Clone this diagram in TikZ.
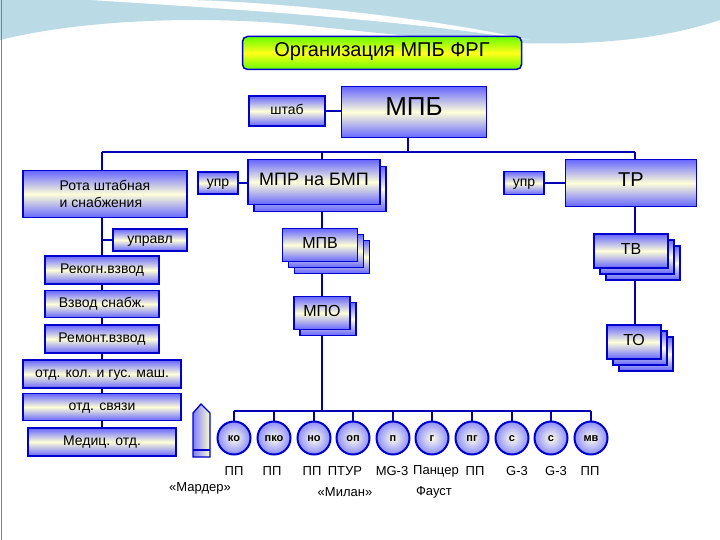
\documentclass[tikz,border=0pt]{standalone}
\usepackage{fontspec}
\setmainfont{Liberation Sans}
\begin{document}
\begin{tikzpicture}[x=1pt,y=-1pt,
 bx/.style={draw=blue!80!black,line width=1.4pt,top color=blue!60,bottom color=blue!60,middle color=yellow!15,inner sep=0pt,font=\fontsize{14}{15}\selectfont},
 tc/.style={text height=0.72em,text depth=0pt},
 ln/.style={draw=blue!70!black,line width=1.5pt},
 cr/.style={circle,draw=blue!80!black,line width=2pt,inner color=yellow!10,outer color=blue!45,minimum size=33pt,inner sep=0pt,text height=0.72em,text depth=0pt,font=\bfseries\fontsize{11}{12}\selectfont},
 lb/.style={font=\fontsize{13}{14}\selectfont,inner sep=0pt}]
\useasboundingbox (0,0) rectangle (720,540);
\fill[white] (0,0) rectangle (720,540);
\fill[cyan!35!teal!30] (0,0) -- (720,0) -- (720,20) .. controls (600,60) and (450,40) .. (300,25) .. controls (200,15) and (80,20) .. (0,40) -- cycle;
\fill[white] (90,0) .. controls (250,10) and (400,20) .. (530,40) .. controls (420,15) and (250,0) .. (180,0) -- cycle;
\draw[gray,line width=1pt] (1,0) -- (1,540);
% title
\node[tc,draw=blue!80!black,line width=1.5pt,rounded corners=5pt,top color=green!60!yellow,bottom color=green!60!yellow,middle color=yellow!90,minimum width=279pt,minimum height=33pt,font=\fontsize{20}{21}\selectfont] (title) at (382,53) {Организация МПБ ФРГ};
% connectors first
\coordinate (bl) at (102,152); \coordinate (br) at (635,152);
\draw[ln] (bl) -- (br);
\draw[ln] (408,112) -- (408,152);
\draw[ln] (287,111) -- (342,111);
\draw[ln] (102,152) -- (102,455);
\draw[ln] (102,240) -- (113,240);
\draw[ln] (322,152) -- (322,411);
\draw[ln] (238,183) -- (248,183);
\draw[ln] (635,152) -- (635,342);
\draw[ln] (544,183) -- (566,183);
\draw[ln] (234,411) -- (591,411);
\foreach \x in {234,274,314,353,393,432,472,512,551,591} \draw[ln] (\x,411) -- (\x,425);
% stacked backs
\foreach \d in {12,6} {
 \node[bx,minimum width=75pt,minimum height=33pt] at (320+\d,245+\d) {};
 \node[bx,minimum width=74pt,minimum height=34pt] at (631+\d,251+\d) {};
 \node[bx,minimum width=54pt,minimum height=34pt] at (634+\d,342+\d) {};}
\node[bx,minimum width=132pt,minimum height=45pt] at (320,189) {};
\node[bx,minimum width=56pt,minimum height=33pt] at (328,319) {};
% main boxes
\node[bx,tc,minimum width=145pt,minimum height=51pt,font=\fontsize{26}{28}\selectfont] (mpb) at (414,112) {МПБ};
\node[bx,tc,minimum width=76pt,minimum height=30pt] (shtab) at (287,111) {штаб};
\node[bx,minimum width=164pt,minimum height=47pt,align=left,font=\fontsize{14}{17}\selectfont] (rota) at (105,194) {Рота штабная\\и снабжения};
\node[bx,tc,minimum width=40pt,minimum height=22pt] (upr1) at (218,183) {упр};
\node[bx,tc,minimum width=132pt,minimum height=45pt,font=\fontsize{18}{20}\selectfont] (mpr) at (314,182) {МПР на БМП};
\node[bx,tc,minimum width=74pt,minimum height=22pt] (uprl) at (150,240) {управл};
\node[bx,tc,minimum width=75pt,minimum height=33pt,font=\fontsize{16}{17}\selectfont] (mpv) at (320,245) {МПВ};
\node[bx,tc,minimum width=56pt,minimum height=33pt,font=\fontsize{16}{17}\selectfont] (mpo) at (322,313) {МПО};
\node[bx,tc,minimum width=131pt,minimum height=47pt,font=\fontsize{20}{22}\selectfont] (tr) at (631,183) {ТР};
\node[bx,tc,minimum width=40pt,minimum height=23pt] (upr2) at (524,183) {упр};
\node[bx,tc,minimum width=74pt,minimum height=34pt,font=\fontsize{16}{17}\selectfont] (tv) at (631,251) {ТВ};
\node[bx,tc,minimum width=54pt,minimum height=34pt,font=\fontsize{16}{17}\selectfont] (to) at (634,342) {ТО};
\node[bx,tc,minimum width=114pt,minimum height=28pt] (r1) at (102,270) {Рекогн.взвод};
\node[bx,tc,minimum width=114pt,minimum height=27pt] (r2) at (102,304) {Взвод снабж.};
\node[bx,tc,minimum width=114pt,minimum height=28pt] (r3) at (102,339) {Ремонт.взвод};
\node[bx,tc,minimum width=158pt,minimum height=28pt] (r4) at (102,374) {отд. кол. и гус. маш.};
\node[bx,tc,minimum width=158pt,minimum height=27pt] (r5) at (102,407) {отд. связи};
\node[bx,tc,minimum width=148pt,minimum height=28pt] (r6) at (102,442) {Медиц. отд.};
% shell
\draw[draw=blue!80!black,line width=1.3pt,left color=blue!50,right color=yellow!20] (193,457) -- (193,413) -- (201,404) -- (210,413) -- (210,457) -- cycle;
\draw[blue!80!black,line width=1.3pt] (193,450) -- (210,450);
% circles
\foreach \x/\t/\n in {234/ко/c1,274/пко/c2,314/но/c3,353/оп/c4,393/п/c5,432/г/c6,472/пг/c7,512/с/c8,551/с/c9,591/мв/c10}
 \node[cr] (\n) at (\x,438) {\t};
\node[lb] at (234,471) {ПП};
\node[lb] at (272,471) {ПП};
\node[lb] at (312,471) {ПП};
\node[lb] at (345,471) {ПТУР};
\node[lb] at (392,471) {MG-3};
\node[lb] at (436,471) {Панцер};
\node[lb] at (475,471) {ПП};
\node[lb] at (517,471) {G-3};
\node[lb] at (556,471) {G-3};
\node[lb] at (590,471) {ПП};
\node[lb] at (200,488) {«Мардер»};
\node[lb] at (345,492) {«Милан»};
\node[lb] at (434,492) {Фауст};
\end{tikzpicture}
\end{document}
